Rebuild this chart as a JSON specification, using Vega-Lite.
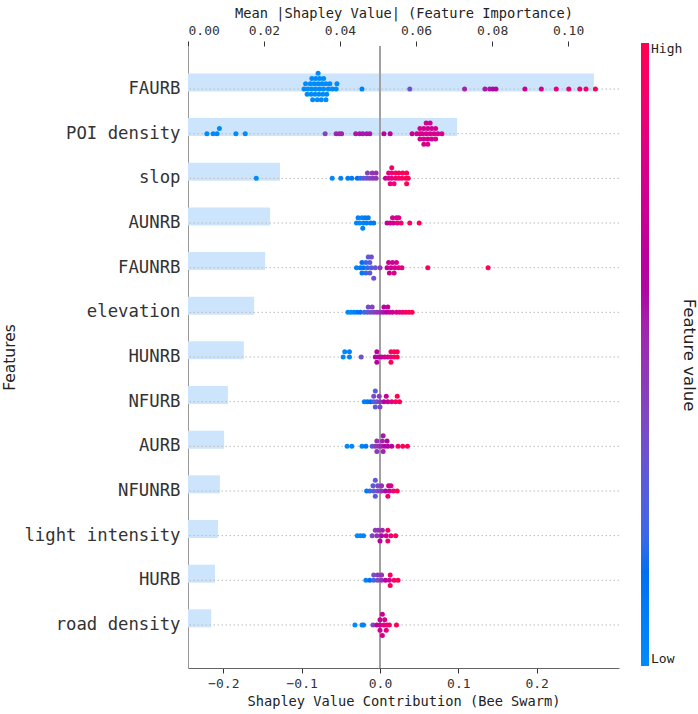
{
  "$schema": "https://vega.github.io/schema/vega-lite/v6.json",
  "width": 431,
  "height": 622,
  "autosize": {"type": "none"},
  "padding": {"left": 188, "top": 46, "right": 79, "bottom": 46},
  "background": "white",
  "config": {
    "view": {"stroke": null},
    "font": "DejaVu Sans Mono",
    "axis": {"labelColor": "#333", "titleColor": "#222", "titleFontWeight": "normal", "grid": false, "tickColor": "#333", "domainColor": "#666"}
  },
  "datasets": {
    "bars": [
      {"f": "FAURB", "m": 0.1068},
      {"f": "POI density", "m": 0.0708},
      {"f": "slop", "m": 0.0242},
      {"f": "AUNRB", "m": 0.0216},
      {"f": "FAUNRB", "m": 0.0203},
      {"f": "elevation", "m": 0.0174},
      {"f": "HUNRB", "m": 0.0147},
      {"f": "NFURB", "m": 0.0105},
      {"f": "AURB", "m": 0.0095},
      {"f": "NFUNRB", "m": 0.0084},
      {"f": "light intensity", "m": 0.0079},
      {"f": "HURB", "m": 0.0071},
      {"f": "road density", "m": 0.0061}
    ],
    "pts": [
      {"f": "FAURB", "s": -0.097, "v": 0.0, "l": 0},
      {"f": "FAURB", "s": -0.092, "v": 0.0, "l": 0},
      {"f": "FAURB", "s": -0.087, "v": 0.0, "l": 0},
      {"f": "FAURB", "s": -0.082, "v": 0.0, "l": 0},
      {"f": "FAURB", "s": -0.077, "v": 0.0, "l": 0},
      {"f": "FAURB", "s": -0.072, "v": 0.0, "l": 0},
      {"f": "FAURB", "s": -0.066, "v": 0.0, "l": 0},
      {"f": "FAURB", "s": -0.061, "v": 0.0, "l": 0},
      {"f": "FAURB", "s": -0.095, "v": 0.0, "l": -1},
      {"f": "FAURB", "s": -0.089, "v": 0.0, "l": -1},
      {"f": "FAURB", "s": -0.084, "v": 0.0, "l": -1},
      {"f": "FAURB", "s": -0.079, "v": 0.0, "l": -1},
      {"f": "FAURB", "s": -0.074, "v": 0.0, "l": -1},
      {"f": "FAURB", "s": -0.069, "v": 0.0, "l": -1},
      {"f": "FAURB", "s": -0.064, "v": 0.0, "l": -1},
      {"f": "FAURB", "s": -0.093, "v": 0.0, "l": 1},
      {"f": "FAURB", "s": -0.088, "v": 0.0, "l": 1},
      {"f": "FAURB", "s": -0.083, "v": 0.0, "l": 1},
      {"f": "FAURB", "s": -0.078, "v": 0.0, "l": 1},
      {"f": "FAURB", "s": -0.073, "v": 0.0, "l": 1},
      {"f": "FAURB", "s": -0.068, "v": 0.0, "l": 1},
      {"f": "FAURB", "s": -0.087, "v": 0.0, "l": -2},
      {"f": "FAURB", "s": -0.082, "v": 0.0, "l": -2},
      {"f": "FAURB", "s": -0.077, "v": 0.0, "l": -2},
      {"f": "FAURB", "s": -0.072, "v": 0.0, "l": -2},
      {"f": "FAURB", "s": -0.079, "v": 0.0, "l": -3},
      {"f": "FAURB", "s": -0.086, "v": 0.0, "l": 2},
      {"f": "FAURB", "s": -0.080, "v": 0.0, "l": 2},
      {"f": "FAURB", "s": -0.075, "v": 0.0, "l": 2},
      {"f": "FAURB", "s": -0.069, "v": 0.0, "l": 2},
      {"f": "FAURB", "s": -0.056, "v": 0.0, "l": 0},
      {"f": "FAURB", "s": -0.055, "v": 0.0, "l": -1},
      {"f": "FAURB", "s": -0.023, "v": 0.05, "l": 0},
      {"f": "FAURB", "s": 0.038, "v": 0.35, "l": 0},
      {"f": "FAURB", "s": 0.108, "v": 0.55, "l": 0},
      {"f": "FAURB", "s": 0.134, "v": 0.58, "l": 0},
      {"f": "FAURB", "s": 0.140, "v": 0.58, "l": 0},
      {"f": "FAURB", "s": 0.144, "v": 0.6, "l": 0},
      {"f": "FAURB", "s": 0.148, "v": 0.6, "l": 0},
      {"f": "FAURB", "s": 0.185, "v": 0.75, "l": 0},
      {"f": "FAURB", "s": 0.206, "v": 0.8, "l": 0},
      {"f": "FAURB", "s": 0.225, "v": 0.85, "l": 0},
      {"f": "FAURB", "s": 0.241, "v": 0.88, "l": 0},
      {"f": "FAURB", "s": 0.255, "v": 0.9, "l": 0},
      {"f": "FAURB", "s": 0.263, "v": 0.93, "l": 0},
      {"f": "FAURB", "s": 0.275, "v": 1.0, "l": 0},

      {"f": "POI density", "s": -0.221, "v": 0.0, "l": 0},
      {"f": "POI density", "s": -0.213, "v": 0.0, "l": 0},
      {"f": "POI density", "s": -0.208, "v": 0.0, "l": 0},
      {"f": "POI density", "s": -0.205, "v": 0.0, "l": -1},
      {"f": "POI density", "s": -0.184, "v": 0.0, "l": 0},
      {"f": "POI density", "s": -0.172, "v": 0.0, "l": 0},
      {"f": "POI density", "s": -0.070, "v": 0.42, "l": 0},
      {"f": "POI density", "s": -0.056, "v": 0.55, "l": 0},
      {"f": "POI density", "s": -0.052, "v": 0.55, "l": 0},
      {"f": "POI density", "s": -0.049, "v": 0.55, "l": 0},
      {"f": "POI density", "s": -0.031, "v": 0.58, "l": 0},
      {"f": "POI density", "s": -0.026, "v": 0.58, "l": 0},
      {"f": "POI density", "s": -0.022, "v": 0.58, "l": 0},
      {"f": "POI density", "s": -0.017, "v": 0.58, "l": 0},
      {"f": "POI density", "s": -0.013, "v": 0.58, "l": 0},
      {"f": "POI density", "s": 0.005, "v": 0.65, "l": 0},
      {"f": "POI density", "s": 0.013, "v": 0.65, "l": 0},
      {"f": "POI density", "s": 0.041, "v": 0.72, "l": 0},
      {"f": "POI density", "s": 0.047, "v": 0.78, "l": 0},
      {"f": "POI density", "s": 0.051, "v": 0.78, "l": 0},
      {"f": "POI density", "s": 0.054, "v": 0.78, "l": 0},
      {"f": "POI density", "s": 0.059, "v": 0.78, "l": 0},
      {"f": "POI density", "s": 0.064, "v": 0.78, "l": 0},
      {"f": "POI density", "s": 0.069, "v": 0.78, "l": 0},
      {"f": "POI density", "s": 0.074, "v": 0.78, "l": 0},
      {"f": "POI density", "s": 0.079, "v": 0.78, "l": 0},
      {"f": "POI density", "s": 0.051, "v": 0.78, "l": -1},
      {"f": "POI density", "s": 0.056, "v": 0.78, "l": -1},
      {"f": "POI density", "s": 0.061, "v": 0.78, "l": -1},
      {"f": "POI density", "s": 0.066, "v": 0.78, "l": -1},
      {"f": "POI density", "s": 0.071, "v": 0.78, "l": -1},
      {"f": "POI density", "s": 0.051, "v": 0.78, "l": 1},
      {"f": "POI density", "s": 0.056, "v": 0.78, "l": 1},
      {"f": "POI density", "s": 0.061, "v": 0.78, "l": 1},
      {"f": "POI density", "s": 0.066, "v": 0.78, "l": 1},
      {"f": "POI density", "s": 0.071, "v": 0.78, "l": 1},
      {"f": "POI density", "s": 0.059, "v": 0.78, "l": -2},
      {"f": "POI density", "s": 0.064, "v": 0.78, "l": -2},
      {"f": "POI density", "s": 0.056, "v": 0.78, "l": 2},
      {"f": "POI density", "s": 0.061, "v": 0.78, "l": 2},

      {"f": "slop", "s": -0.158, "v": 0.0, "l": 0},
      {"f": "slop", "s": -0.061, "v": 0.02, "l": 0},
      {"f": "slop", "s": -0.050, "v": 0.05, "l": 0},
      {"f": "slop", "s": -0.041, "v": 0.08, "l": 0},
      {"f": "slop", "s": -0.036, "v": 0.1, "l": 0},
      {"f": "slop", "s": -0.029, "v": 0.15, "l": 0},
      {"f": "slop", "s": -0.025, "v": 0.2, "l": 0},
      {"f": "slop", "s": -0.021, "v": 0.28, "l": 0},
      {"f": "slop", "s": -0.017, "v": 0.35, "l": 0},
      {"f": "slop", "s": -0.013, "v": 0.4, "l": 0},
      {"f": "slop", "s": -0.009, "v": 0.45, "l": 0},
      {"f": "slop", "s": -0.005, "v": 0.48, "l": 0},
      {"f": "slop", "s": -0.016, "v": 0.42, "l": -1},
      {"f": "slop", "s": -0.010, "v": 0.48, "l": -1},
      {"f": "slop", "s": -0.005, "v": 0.52, "l": -1},
      {"f": "slop", "s": 0.007, "v": 0.7, "l": 0},
      {"f": "slop", "s": 0.011, "v": 0.78, "l": 0},
      {"f": "slop", "s": 0.015, "v": 0.85, "l": 0},
      {"f": "slop", "s": 0.020, "v": 0.9, "l": 0},
      {"f": "slop", "s": 0.024, "v": 0.95, "l": 0},
      {"f": "slop", "s": 0.028, "v": 0.95, "l": 0},
      {"f": "slop", "s": 0.033, "v": 1.0, "l": 0},
      {"f": "slop", "s": 0.036, "v": 1.0, "l": 0},
      {"f": "slop", "s": 0.011, "v": 0.85, "l": -1},
      {"f": "slop", "s": 0.015, "v": 0.9, "l": -1},
      {"f": "slop", "s": 0.020, "v": 0.95, "l": -1},
      {"f": "slop", "s": 0.024, "v": 0.95, "l": -1},
      {"f": "slop", "s": 0.029, "v": 1.0, "l": -1},
      {"f": "slop", "s": 0.034, "v": 1.0, "l": -1},
      {"f": "slop", "s": 0.015, "v": 0.9, "l": -2},
      {"f": "slop", "s": 0.013, "v": 0.82, "l": 1},
      {"f": "slop", "s": 0.018, "v": 0.9, "l": 1},
      {"f": "slop", "s": 0.034, "v": 1.0, "l": 1},

      {"f": "AUNRB", "s": -0.028, "v": 0.05, "l": -1},
      {"f": "AUNRB", "s": -0.023, "v": 0.05, "l": -1},
      {"f": "AUNRB", "s": -0.019, "v": 0.08, "l": -1},
      {"f": "AUNRB", "s": -0.015, "v": 0.1, "l": -1},
      {"f": "AUNRB", "s": -0.030, "v": 0.02, "l": 0},
      {"f": "AUNRB", "s": -0.026, "v": 0.03, "l": 0},
      {"f": "AUNRB", "s": -0.021, "v": 0.05, "l": 0},
      {"f": "AUNRB", "s": -0.017, "v": 0.06, "l": 0},
      {"f": "AUNRB", "s": -0.012, "v": 0.08, "l": 0},
      {"f": "AUNRB", "s": -0.008, "v": 0.1, "l": 0},
      {"f": "AUNRB", "s": -0.022, "v": 0.05, "l": 1},
      {"f": "AUNRB", "s": 0.016, "v": 0.75, "l": -1},
      {"f": "AUNRB", "s": 0.021, "v": 0.8, "l": -1},
      {"f": "AUNRB", "s": 0.024, "v": 0.8, "l": -1},
      {"f": "AUNRB", "s": 0.009, "v": 0.7, "l": 0},
      {"f": "AUNRB", "s": 0.013, "v": 0.75, "l": 0},
      {"f": "AUNRB", "s": 0.017, "v": 0.8, "l": 0},
      {"f": "AUNRB", "s": 0.022, "v": 0.85, "l": 0},
      {"f": "AUNRB", "s": 0.027, "v": 0.9, "l": 0},
      {"f": "AUNRB", "s": 0.038, "v": 0.95, "l": 0},
      {"f": "AUNRB", "s": 0.050, "v": 1.0, "l": 0},

      {"f": "FAUNRB", "s": -0.015, "v": 0.3, "l": -2},
      {"f": "FAUNRB", "s": -0.011, "v": 0.35, "l": -2},
      {"f": "FAUNRB", "s": -0.023, "v": 0.15, "l": -1},
      {"f": "FAUNRB", "s": -0.018, "v": 0.2, "l": -1},
      {"f": "FAUNRB", "s": -0.013, "v": 0.3, "l": -1},
      {"f": "FAUNRB", "s": -0.030, "v": 0.05, "l": 0},
      {"f": "FAUNRB", "s": -0.025, "v": 0.1, "l": 0},
      {"f": "FAUNRB", "s": -0.021, "v": 0.12, "l": 0},
      {"f": "FAUNRB", "s": -0.016, "v": 0.2, "l": 0},
      {"f": "FAUNRB", "s": -0.011, "v": 0.28, "l": 0},
      {"f": "FAUNRB", "s": -0.006, "v": 0.35, "l": 0},
      {"f": "FAUNRB", "s": -0.023, "v": 0.1, "l": 1},
      {"f": "FAUNRB", "s": -0.018, "v": 0.2, "l": 1},
      {"f": "FAUNRB", "s": -0.013, "v": 0.3, "l": 1},
      {"f": "FAUNRB", "s": -0.008, "v": 0.35, "l": 2},
      {"f": "FAUNRB", "s": 0.000, "v": 0.45, "l": 0},
      {"f": "FAUNRB", "s": 0.011, "v": 0.7, "l": -1},
      {"f": "FAUNRB", "s": 0.016, "v": 0.75, "l": -1},
      {"f": "FAUNRB", "s": 0.021, "v": 0.8, "l": -1},
      {"f": "FAUNRB", "s": 0.009, "v": 0.7, "l": 0},
      {"f": "FAUNRB", "s": 0.014, "v": 0.75, "l": 0},
      {"f": "FAUNRB", "s": 0.019, "v": 0.8, "l": 0},
      {"f": "FAUNRB", "s": 0.024, "v": 0.85, "l": 0},
      {"f": "FAUNRB", "s": 0.028, "v": 0.85, "l": 0},
      {"f": "FAUNRB", "s": 0.012, "v": 0.75, "l": 1},
      {"f": "FAUNRB", "s": 0.018, "v": 0.8, "l": 1},
      {"f": "FAUNRB", "s": 0.061, "v": 0.95, "l": 0},
      {"f": "FAUNRB", "s": 0.138, "v": 1.0, "l": 0},

      {"f": "elevation", "s": -0.041, "v": 0.0, "l": 0},
      {"f": "elevation", "s": -0.037, "v": 0.02, "l": 0},
      {"f": "elevation", "s": -0.033, "v": 0.05, "l": 0},
      {"f": "elevation", "s": -0.029, "v": 0.1, "l": 0},
      {"f": "elevation", "s": -0.025, "v": 0.15, "l": 0},
      {"f": "elevation", "s": -0.020, "v": 0.22, "l": 0},
      {"f": "elevation", "s": -0.016, "v": 0.3, "l": 0},
      {"f": "elevation", "s": -0.012, "v": 0.36, "l": 0},
      {"f": "elevation", "s": -0.008, "v": 0.42, "l": 0},
      {"f": "elevation", "s": -0.004, "v": 0.48, "l": 0},
      {"f": "elevation", "s": 0.000, "v": 0.52, "l": 0},
      {"f": "elevation", "s": 0.004, "v": 0.58, "l": 0},
      {"f": "elevation", "s": 0.008, "v": 0.63, "l": 0},
      {"f": "elevation", "s": 0.012, "v": 0.7, "l": 0},
      {"f": "elevation", "s": 0.016, "v": 0.75, "l": 0},
      {"f": "elevation", "s": 0.021, "v": 0.8, "l": 0},
      {"f": "elevation", "s": 0.025, "v": 0.85, "l": 0},
      {"f": "elevation", "s": 0.029, "v": 0.9, "l": 0},
      {"f": "elevation", "s": 0.033, "v": 0.95, "l": 0},
      {"f": "elevation", "s": 0.037, "v": 0.98, "l": 0},
      {"f": "elevation", "s": 0.041, "v": 1.0, "l": 0},
      {"f": "elevation", "s": -0.015, "v": 0.38, "l": -1},
      {"f": "elevation", "s": -0.010, "v": 0.42, "l": -1},
      {"f": "elevation", "s": 0.005, "v": 0.65, "l": -1},
      {"f": "elevation", "s": 0.010, "v": 0.68, "l": -1},

      {"f": "HUNRB", "s": -0.045, "v": 0.02, "l": -1},
      {"f": "HUNRB", "s": -0.039, "v": 0.05, "l": -1},
      {"f": "HUNRB", "s": -0.047, "v": 0.02, "l": 0},
      {"f": "HUNRB", "s": -0.039, "v": 0.05, "l": 0},
      {"f": "HUNRB", "s": -0.024, "v": 0.35, "l": 0},
      {"f": "HUNRB", "s": -0.004, "v": 0.65, "l": -1},
      {"f": "HUNRB", "s": 0.014, "v": 0.95, "l": -1},
      {"f": "HUNRB", "s": 0.018, "v": 0.98, "l": -1},
      {"f": "HUNRB", "s": 0.022, "v": 1.0, "l": -1},
      {"f": "HUNRB", "s": -0.006, "v": 0.62, "l": 0},
      {"f": "HUNRB", "s": -0.002, "v": 0.65, "l": 0},
      {"f": "HUNRB", "s": 0.002, "v": 0.7, "l": 0},
      {"f": "HUNRB", "s": 0.006, "v": 0.75, "l": 0},
      {"f": "HUNRB", "s": 0.010, "v": 0.8, "l": 0},
      {"f": "HUNRB", "s": 0.014, "v": 0.88, "l": 0},
      {"f": "HUNRB", "s": 0.018, "v": 0.95, "l": 0},
      {"f": "HUNRB", "s": 0.022, "v": 1.0, "l": 0},
      {"f": "HUNRB", "s": -0.004, "v": 0.65, "l": 1},
      {"f": "HUNRB", "s": 0.014, "v": 0.95, "l": 1},

      {"f": "NFURB", "s": -0.006, "v": 0.3, "l": -2},
      {"f": "NFURB", "s": -0.008, "v": 0.38, "l": -1},
      {"f": "NFURB", "s": -0.001, "v": 0.45, "l": -1},
      {"f": "NFURB", "s": 0.008, "v": 0.72, "l": -1},
      {"f": "NFURB", "s": 0.022, "v": 1.0, "l": -1},
      {"f": "NFURB", "s": -0.020, "v": 0.05, "l": 0},
      {"f": "NFURB", "s": -0.016, "v": 0.1, "l": 0},
      {"f": "NFURB", "s": -0.012, "v": 0.15, "l": 0},
      {"f": "NFURB", "s": -0.008, "v": 0.25, "l": 0},
      {"f": "NFURB", "s": -0.004, "v": 0.35, "l": 0},
      {"f": "NFURB", "s": 0.000, "v": 0.45, "l": 0},
      {"f": "NFURB", "s": 0.005, "v": 0.6, "l": 0},
      {"f": "NFURB", "s": 0.010, "v": 0.75, "l": 0},
      {"f": "NFURB", "s": 0.015, "v": 0.85, "l": 0},
      {"f": "NFURB", "s": 0.020, "v": 0.95, "l": 0},
      {"f": "NFURB", "s": 0.025, "v": 1.0, "l": 0},
      {"f": "NFURB", "s": -0.006, "v": 0.3, "l": 1},
      {"f": "NFURB", "s": 0.000, "v": 0.4, "l": 1},

      {"f": "AURB", "s": -0.042, "v": 0.0, "l": 0},
      {"f": "AURB", "s": -0.036, "v": 0.02, "l": 0},
      {"f": "AURB", "s": -0.023, "v": 0.05, "l": 0},
      {"f": "AURB", "s": -0.018, "v": 0.1, "l": 0},
      {"f": "AURB", "s": -0.010, "v": 0.35, "l": 0},
      {"f": "AURB", "s": -0.006, "v": 0.45, "l": 0},
      {"f": "AURB", "s": -0.002, "v": 0.5, "l": 0},
      {"f": "AURB", "s": 0.002, "v": 0.55, "l": 0},
      {"f": "AURB", "s": 0.006, "v": 0.6, "l": 0},
      {"f": "AURB", "s": 0.010, "v": 0.62, "l": 0},
      {"f": "AURB", "s": 0.015, "v": 0.65, "l": 0},
      {"f": "AURB", "s": 0.023, "v": 0.95, "l": 0},
      {"f": "AURB", "s": 0.029, "v": 1.0, "l": 0},
      {"f": "AURB", "s": 0.035, "v": 1.0, "l": 0},
      {"f": "AURB", "s": -0.004, "v": 0.5, "l": -1},
      {"f": "AURB", "s": 0.003, "v": 0.55, "l": -1},
      {"f": "AURB", "s": 0.009, "v": 0.6, "l": -1},
      {"f": "AURB", "s": 0.004, "v": 0.58, "l": -2},
      {"f": "AURB", "s": -0.004, "v": 0.45, "l": 1},
      {"f": "AURB", "s": 0.004, "v": 0.55, "l": 1},

      {"f": "NFUNRB", "s": -0.006, "v": 0.3, "l": -2},
      {"f": "NFUNRB", "s": -0.009, "v": 0.3, "l": -1},
      {"f": "NFUNRB", "s": -0.003, "v": 0.4, "l": -1},
      {"f": "NFUNRB", "s": 0.002, "v": 0.5, "l": -1},
      {"f": "NFUNRB", "s": 0.011, "v": 0.75, "l": -1},
      {"f": "NFUNRB", "s": 0.014, "v": 0.8, "l": -1},
      {"f": "NFUNRB", "s": -0.017, "v": 0.1, "l": 0},
      {"f": "NFUNRB", "s": -0.013, "v": 0.2, "l": 0},
      {"f": "NFUNRB", "s": -0.008, "v": 0.3, "l": 0},
      {"f": "NFUNRB", "s": -0.003, "v": 0.4, "l": 0},
      {"f": "NFUNRB", "s": 0.002, "v": 0.5, "l": 0},
      {"f": "NFUNRB", "s": 0.007, "v": 0.6, "l": 0},
      {"f": "NFUNRB", "s": 0.012, "v": 0.75, "l": 0},
      {"f": "NFUNRB", "s": 0.017, "v": 0.9, "l": 0},
      {"f": "NFUNRB", "s": 0.022, "v": 1.0, "l": 0},
      {"f": "NFUNRB", "s": -0.006, "v": 0.3, "l": 1},
      {"f": "NFUNRB", "s": 0.010, "v": 0.9, "l": 1},

      {"f": "light intensity", "s": -0.006, "v": 0.45, "l": -1},
      {"f": "light intensity", "s": -0.002, "v": 0.5, "l": -1},
      {"f": "light intensity", "s": 0.003, "v": 0.55, "l": -1},
      {"f": "light intensity", "s": 0.010, "v": 0.95, "l": -1},
      {"f": "light intensity", "s": -0.029, "v": 0.0, "l": 0},
      {"f": "light intensity", "s": -0.025, "v": 0.02, "l": 0},
      {"f": "light intensity", "s": -0.021, "v": 0.05, "l": 0},
      {"f": "light intensity", "s": -0.010, "v": 0.4, "l": 0},
      {"f": "light intensity", "s": -0.004, "v": 0.5, "l": 0},
      {"f": "light intensity", "s": 0.002, "v": 0.6, "l": 0},
      {"f": "light intensity", "s": 0.008, "v": 0.75, "l": 0},
      {"f": "light intensity", "s": 0.014, "v": 0.9, "l": 0},
      {"f": "light intensity", "s": 0.020, "v": 1.0, "l": 0},
      {"f": "light intensity", "s": 0.000, "v": 0.65, "l": 1},
      {"f": "light intensity", "s": 0.010, "v": 0.9, "l": 1},

      {"f": "HURB", "s": -0.008, "v": 0.35, "l": -1},
      {"f": "HURB", "s": -0.003, "v": 0.45, "l": -1},
      {"f": "HURB", "s": 0.002, "v": 0.5, "l": -1},
      {"f": "HURB", "s": 0.013, "v": 0.95, "l": -1},
      {"f": "HURB", "s": -0.018, "v": 0.05, "l": 0},
      {"f": "HURB", "s": -0.013, "v": 0.15, "l": 0},
      {"f": "HURB", "s": -0.008, "v": 0.25, "l": 0},
      {"f": "HURB", "s": -0.003, "v": 0.4, "l": 0},
      {"f": "HURB", "s": 0.002, "v": 0.5, "l": 0},
      {"f": "HURB", "s": 0.007, "v": 0.65, "l": 0},
      {"f": "HURB", "s": 0.012, "v": 0.8, "l": 0},
      {"f": "HURB", "s": 0.018, "v": 0.95, "l": 0},
      {"f": "HURB", "s": 0.023, "v": 1.0, "l": 0},
      {"f": "HURB", "s": 0.013, "v": 0.95, "l": 1},

      {"f": "road density", "s": -0.032, "v": 0.0, "l": 0},
      {"f": "road density", "s": -0.023, "v": 0.02, "l": 0},
      {"f": "road density", "s": -0.021, "v": 0.05, "l": 0},
      {"f": "road density", "s": -0.009, "v": 0.4, "l": 0},
      {"f": "road density", "s": 0.003, "v": 0.75, "l": -2},
      {"f": "road density", "s": 0.000, "v": 0.72, "l": -1},
      {"f": "road density", "s": 0.006, "v": 0.8, "l": -1},
      {"f": "road density", "s": -0.004, "v": 0.68, "l": 0},
      {"f": "road density", "s": 0.000, "v": 0.75, "l": 0},
      {"f": "road density", "s": 0.005, "v": 0.85, "l": 0},
      {"f": "road density", "s": 0.009, "v": 0.9, "l": 0},
      {"f": "road density", "s": 0.012, "v": 0.92, "l": 0},
      {"f": "road density", "s": 0.000, "v": 0.78, "l": 1},
      {"f": "road density", "s": 0.008, "v": 0.85, "l": 1},
      {"f": "road density", "s": 0.003, "v": 0.8, "l": 2},
      {"f": "road density", "s": 0.021, "v": 1.0, "l": 0}
    ]
  },
  "layer": [
    {
      "data": {"name": "bars"},
      "layer": [
        {
          "mark": {"type": "bar", "color": "#cce5fc"},
          "encoding": {
            "y": {"field": "f", "type": "nominal", "sort": null,
              "scale": {"domain": ["FAURB", "POI density", "slop", "AUNRB", "FAUNRB", "elevation", "HUNRB", "NFURB", "AURB", "NFUNRB", "light intensity", "HURB", "road density"], "paddingInner": 0.3, "paddingOuter": 0.614},
              "axis": {"title": "Features", "titleFont": "DejaVu Sans", "titleFontSize": 15.5, "titlePadding": 6, "ticks": false, "labelFontSize": 17.3, "labelPadding": 8, "labelColor": "#333", "domainColor": "#999"}},
            "x": {"field": "m", "type": "quantitative",
              "scale": {"domain": [0, 0.1134], "nice": false, "zero": true},
              "axis": {"orient": "top", "title": "Mean |Shapley Value| (Feature Importance)", "titleFontSize": 13.7, "titlePadding": 4, "values": [0, 0.02, 0.04, 0.06, 0.08, 0.1], "format": ".2f", "labelFontSize": 13, "labelPadding": 4, "tickSize": 5, "domain": false}}
          }
        },
        {
          "mark": {"type": "rule", "color": "#bbbbbb", "strokeDash": [1.5, 2.5], "strokeWidth": 1},
          "encoding": {
            "y": {"field": "f", "type": "nominal", "sort": null}
          }
        }
      ]
    },
    {
      "layer": [
        {
          "data": {"values": [{}]},
          "mark": {"type": "rule", "color": "#a0a0a0", "strokeWidth": 2},
          "encoding": {"x": {"datum": 0, "type": "quantitative"}}
        },
        {
          "data": {"name": "pts"},
          "mark": {"type": "circle", "size": 25, "opacity": 1},
          "encoding": {
            "x": {"field": "s", "type": "quantitative",
              "scale": {"domain": [-0.2451, 0.3051], "nice": false, "zero": false},
              "axis": {"orient": "bottom", "title": "Shapley Value Contribution (Bee Swarm)", "titleFontSize": 13.7, "titlePadding": 4, "values": [-0.2, -0.1, 0, 0.1, 0.2], "format": ".1f", "labelFontSize": 13, "labelPadding": 4, "tickSize": 5}},
            "y": {"field": "f", "type": "nominal", "sort": null},
            "yOffset": {"field": "l", "type": "quantitative", "scale": {"domain": [-3, 3], "range": [-0.27, 31.53]}},
            "color": {"field": "v", "type": "quantitative",
              "scale": {"domain": [0, 0.15, 0.3, 0.45, 0.6, 0.8, 1], "range": ["#008bfb", "#0070f0", "#5c5ad8", "#8a3cb8", "#ae08a4", "#d8008a", "#ff0052"]},
              "legend": {"orient": "none", "legendX": 453, "legendY": -3, "direction": "vertical", "gradientLength": 623, "gradientThickness": 8, "values": [0, 1], "labelExpr": "datum.value == 1 ? 'High' : 'Low'", "labelFont": "DejaVu Sans Mono", "labelFontSize": 13, "labelColor": "#222", "title": "Feature value", "titleOrient": "right", "titleAnchor": "middle", "titleBaseline": "middle", "titleFont": "DejaVu Sans", "titleFontSize": 16.5, "titleFontWeight": "normal", "titleColor": "#222", "titlePadding": 7, "gradientStrokeWidth": 0,
                "encode": {"title": {"update": {"angle": {"value": 270}}}, "labels": {"update": {"baseline": {"value": "middle"}}}}}}
          }
        }
      ]
    }
  ],
  "resolve": {"scale": {"x": "independent"}, "axis": {"x": "independent"}}
}
